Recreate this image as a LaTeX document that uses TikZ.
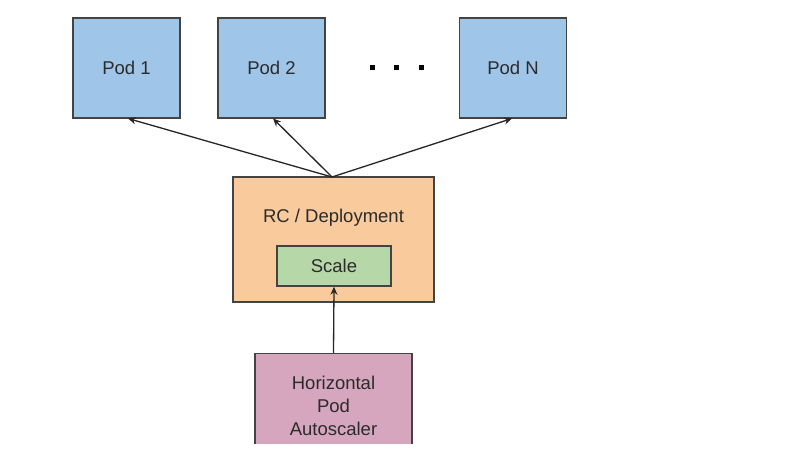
\documentclass[tikz,border=0pt]{standalone}
\usepackage{fontspec}
\setmainfont{Liberation Sans}
\usetikzlibrary{arrows.meta}
\definecolor{podc}{HTML}{9FC5E8}
\definecolor{rcc}{HTML}{F9CB9C}
\definecolor{scc}{HTML}{B6D7A8}
\definecolor{hpac}{HTML}{D5A6BD}
\definecolor{edge}{HTML}{434343}
\definecolor{txt}{HTML}{2B2B2B}
\tikzset{
  box/.style={draw=edge, line width=1.5pt, rectangle, inner sep=0pt, text=txt, font=\fontsize{18.5}{22}\selectfont, align=center},
  podbox/.style={box, fill=podc, minimum width=107pt, minimum height=100pt},
  conn/.style={draw=black!85, line width=1.3pt, -{Stealth[length=8pt,width=7pt]}},
  dotsq/.style={fill=black, minimum size=5pt, inner sep=0pt, rectangle}
}
\begin{document}
\begin{tikzpicture}[x=1pt,y=-1pt]
\useasboundingbox (0,0) rectangle (798,462);
\fill[white] (0,0) rectangle (798,462);
\node[podbox] (p1) at (126.5,68) {Pod 1};
\node[podbox] (p2) at (271.5,68) {Pod 2};
\node[podbox] (pn) at (513,68) {Pod N};
\node[dotsq] (d1) at (372,68) {};
\node[dotsq] (d2) at (396,68) {};
\node[dotsq] (d3) at (421,68) {};
\node[box, fill=rcc, minimum width=201pt, minimum height=125pt] (rc) at (333.5,239.5) {};
\node[text=txt, font=\fontsize{18.5}{22}\selectfont] (rct) at (333.5,218) {RC / Deployment};
\node[box, fill=scc, minimum width=114pt, minimum height=40pt] (sc) at (334,266) {Scale};
\begin{scope}
\clip (0,0) rectangle (798,443);
\node[box, fill=hpac, minimum width=157pt, minimum height=120pt, anchor=north] (hpa) at (333.5,353) {};
\node[text=txt, font=\fontsize{18.5}{23}\selectfont, align=center, anchor=north] (hpat) at (333.5,373) {Horizontal\\Pod\\Autoscaler};
\end{scope}
\coordinate (top) at (332,177);
\draw[conn] (top) -- (128,118.5);
\draw[conn] (top) -- (273,118.5);
\draw[conn] (top) -- (512,118.5);
\draw[conn] (hpa.north) -- (sc.south);
\end{tikzpicture}
\end{document}
